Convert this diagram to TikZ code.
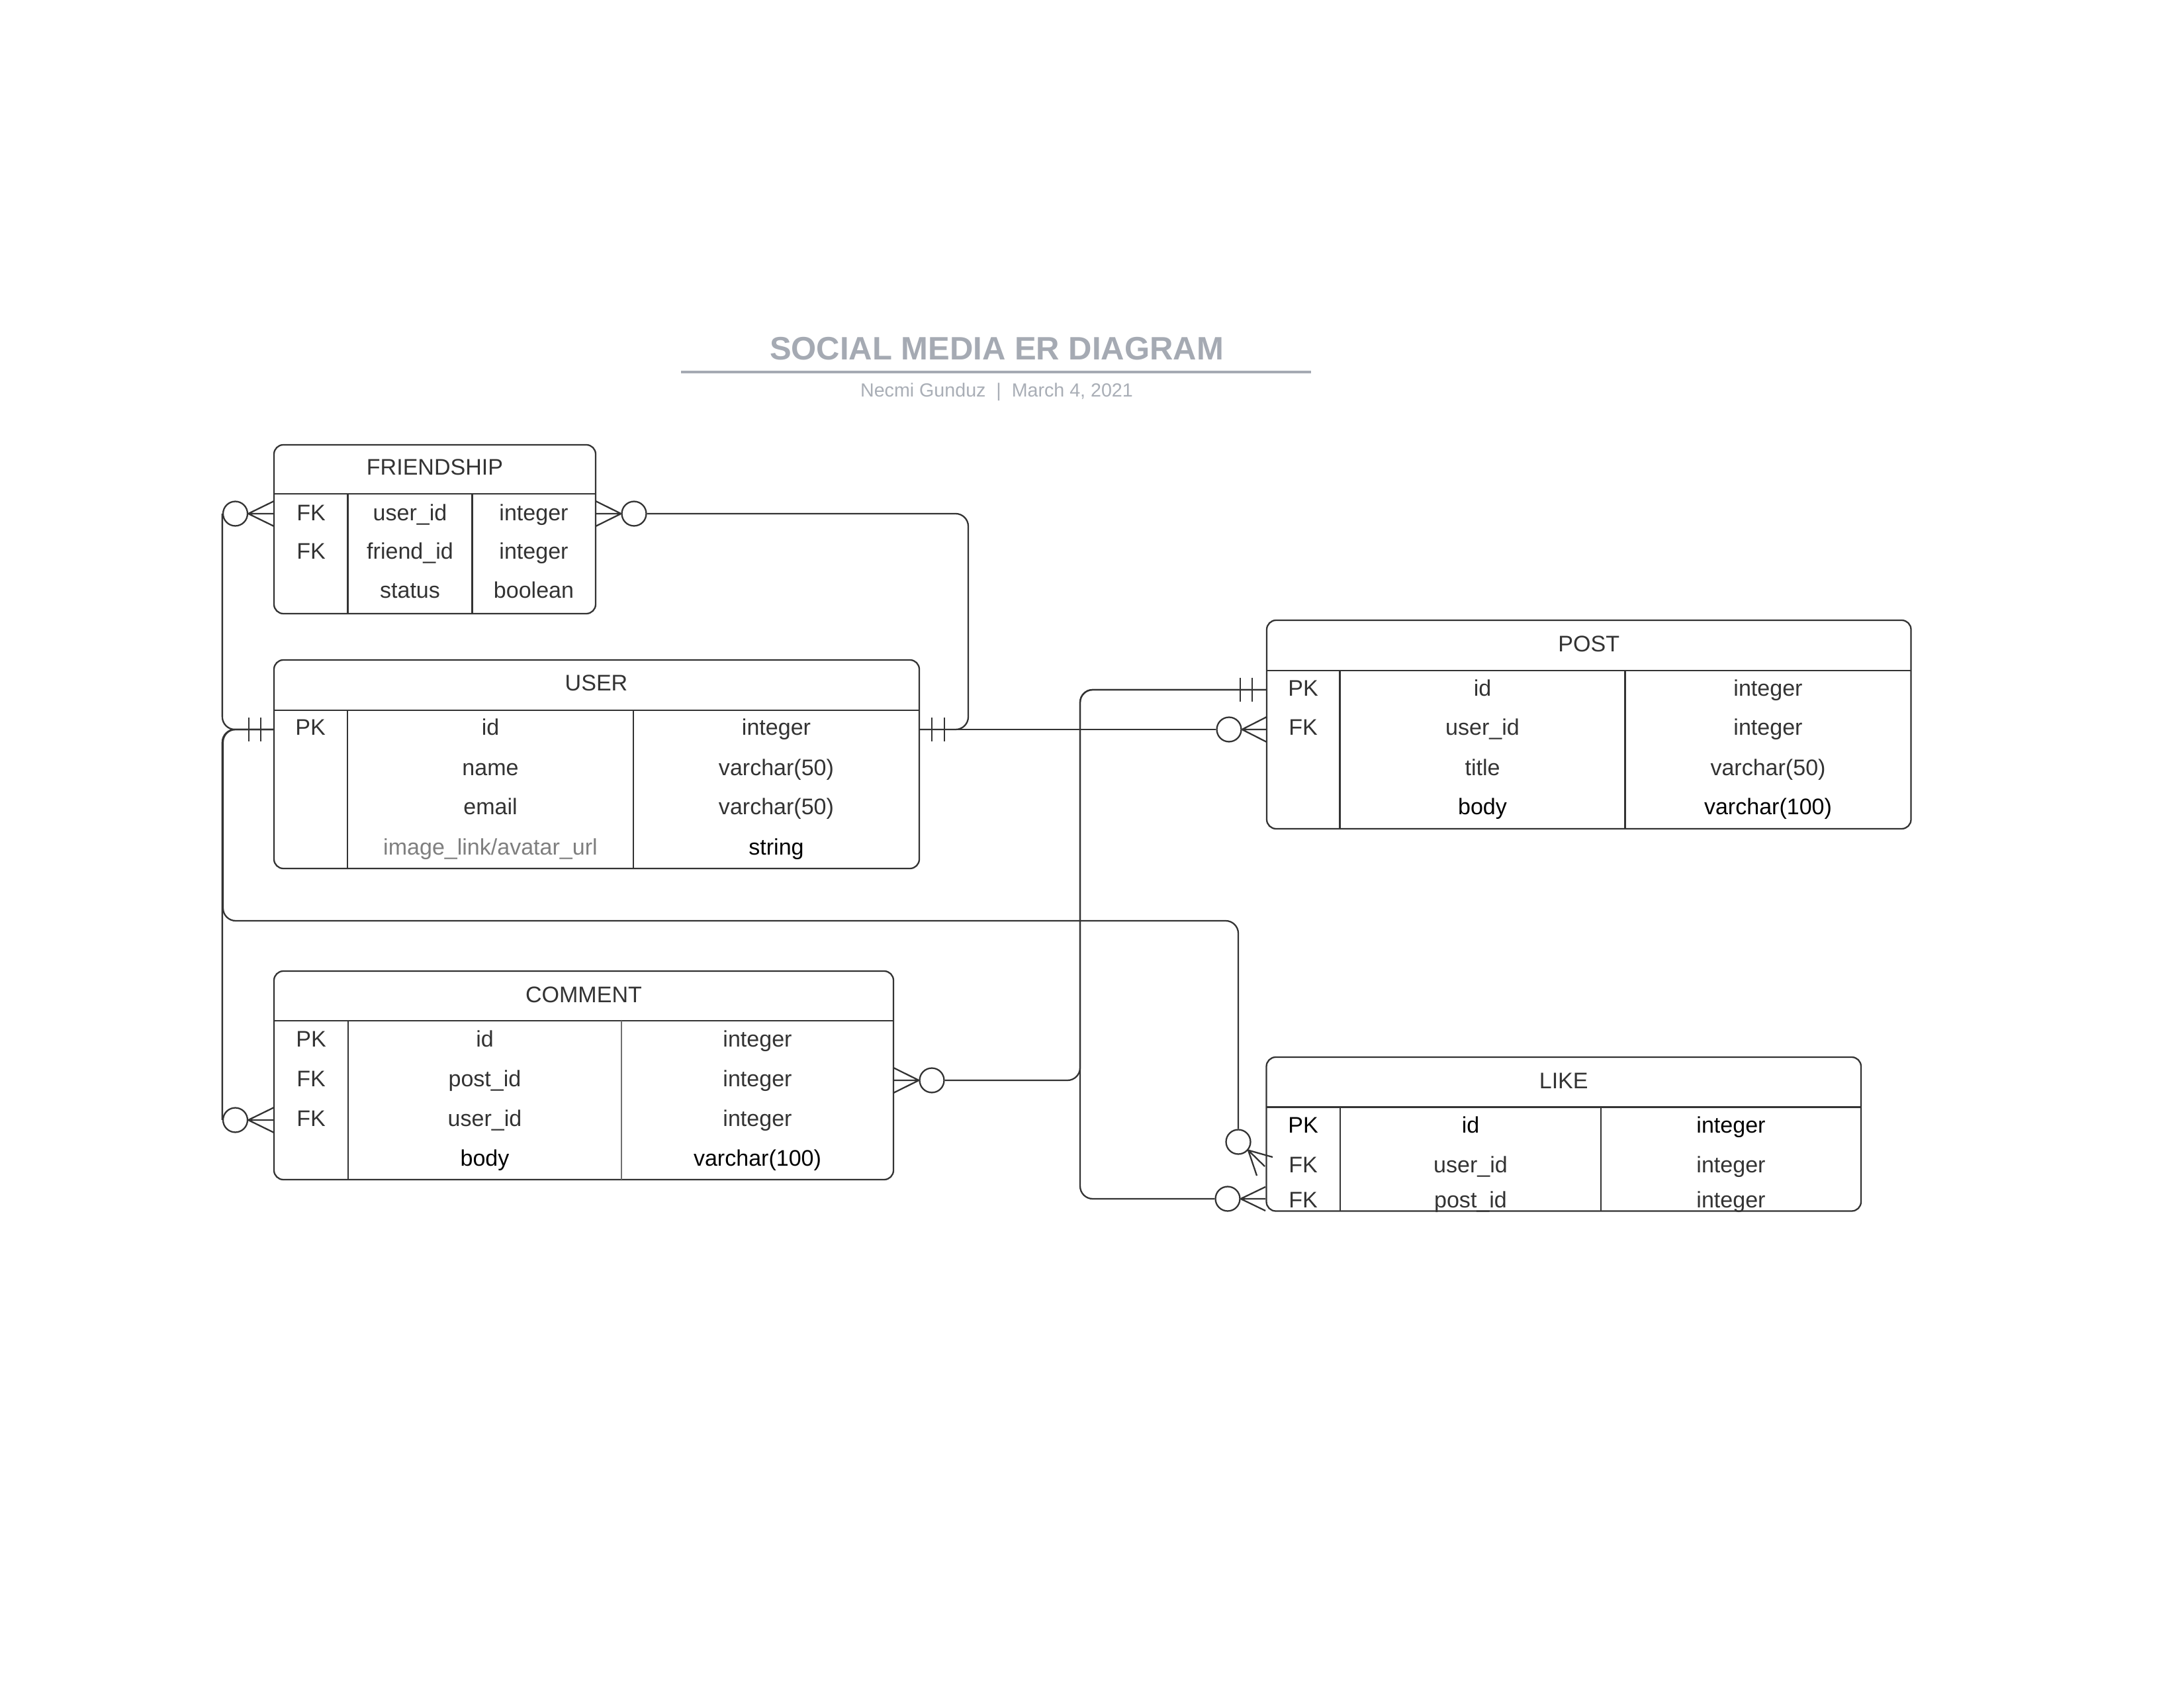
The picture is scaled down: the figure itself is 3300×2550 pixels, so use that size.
\documentclass[tikz,border=0pt]{standalone}
\usepackage{fontspec}
\setmainfont{Liberation Sans}
\usetikzlibrary{fit}

\definecolor{ink}{HTML}{333333}
\definecolor{titlegray}{HTML}{A5AAB3}
\definecolor{subgray}{HTML}{A9AEB6}
\definecolor{mutedtext}{HTML}{7F7F7F}

\newcommand\cellfont{\fontsize{8.2}{9.8}\selectfont}
\newcommand\headfont{\fontsize{11.8}{14}\selectfont\bfseries}
\newcommand\subfont{\fontsize{6.9}{8.5}\selectfont}

\begin{document}
\begin{tikzpicture}[x=0.2409pt, y=-0.2409pt,
  ink/.style={draw=ink, line width=0.55pt},
  tablebox/.style={ink, rounded corners=3.4pt, inner sep=0pt, outer sep=0pt},
  divider/.style={ink},
  thindivider/.style={draw=ink!70, line width=0.35pt},
  conn/.style={ink, rounded corners=4.6pt},
  zero/.style={ink, circle, inner sep=0pt, minimum size=8.9pt},
  cell/.style={anchor=base, inner sep=0pt, text=ink, font=\cellfont, yshift=-0.25pt},
  dark/.style={text=black},
  muted/.style={text=mutedtext},
]
% page
\fill[white] (0,0) rectangle (3300,2550);
\useasboundingbox (0,0) rectangle (3300,2550);

% ---------- heading ----------
\node[anchor=base, inner sep=0pt, text=titlegray, font=\headfont] (title) at (1506,544) {SOCIAL MEDIA ER DIAGRAM};
\draw[titlegray, line width=0.9pt] (1029,562) -- (1981,562);
\node[anchor=base, inner sep=0pt, text=subgray, font=\subfont] (subtitle) at (1506,600) {Necmi Gunduz\ \ |\ \ March 4, 2021};

% ---------- FRIENDSHIP ----------
\node[tablebox, fit={(414,672) (900,927)}] (friendship) {};
\draw[divider] (414,746) -- (900,746);
\draw[divider] (525.5,746) -- (525.5,927);
\draw[divider] (713.5,746) -- (713.5,927);
\node[cell] (fr-h) at (657,716) {FRIENDSHIP};
\node[cell] (fr-k1) at (470,785) {FK};
\node[cell] (fr-n1) at (619.5,785) {user\_id};
\node[cell] (fr-t1) at (806.5,785) {integer};
\node[cell] (fr-k2) at (470,843.5) {FK};
\node[cell] (fr-n2) at (619.5,843.5) {friend\_id};
\node[cell] (fr-t2) at (806.5,843.5) {integer};
\node[cell] (fr-n3) at (619.5,902) {status};
\node[cell] (fr-t3) at (806.5,902) {boolean};

% ---------- USER ----------
\node[tablebox, fit={(414,997) (1389,1312)}] (user) {};
\draw[divider] (414,1073) -- (1389,1073);
\draw[divider] (525,1073) -- (525,1312);
\draw[divider] (957,1073) -- (957,1312);
\node[cell] (us-h) at (901,1042) {USER};
\node[cell] (us-k1) at (469,1109.5) {PK};
\node[cell] (us-n1) at (741,1109.5) {id};
\node[cell] (us-t1) at (1173,1109.5) {integer};
\node[cell] (us-n2) at (741,1170) {name};
\node[cell] (us-t2) at (1173,1170) {varchar(50)};
\node[cell] (us-n3) at (741,1229.5) {email};
\node[cell] (us-t3) at (1173,1229.5) {varchar(50)};
\node[cell, muted] (us-n4) at (741,1290) {image\_link/avatar\_url};
\node[cell, dark] (us-t4) at (1173,1290) {string};

% ---------- POST ----------
\node[tablebox, fit={(1914,937) (2887.5,1252)}] (post) {};
\draw[divider] (1914,1013) -- (2887.5,1013);
\draw[divider] (2024.5,1013) -- (2024.5,1252);
\draw[divider] (2455.5,1013) -- (2455.5,1252);
\node[cell] (po-h) at (2400.7,983) {POST};
\node[cell] (po-k1) at (1969,1050) {PK};
\node[cell] (po-n1) at (2240,1050) {id};
\node[cell] (po-t1) at (2671.5,1050) {integer};
\node[cell] (po-k2) at (1969,1109) {FK};
\node[cell] (po-n2) at (2240,1109) {user\_id};
\node[cell] (po-t2) at (2671.5,1109) {integer};
\node[cell] (po-n3) at (2240,1170) {title};
\node[cell] (po-t3) at (2671.5,1170) {varchar(50)};
\node[cell, dark] (po-n4) at (2240,1229) {body};
\node[cell, dark] (po-t4) at (2671.5,1229) {varchar(100)};

% ---------- COMMENT ----------
\node[tablebox, fit={(414,1467) (1350,1782)}] (comment) {};
\draw[divider] (414,1542) -- (1350,1542);
\draw[divider] (526,1542) -- (526,1782);
\draw[thindivider] (939,1542) -- (939,1782);
\node[cell] (cm-h) at (882,1513) {COMMENT};
\node[cell] (cm-k1) at (470,1580) {PK};
\node[cell] (cm-n1) at (732.5,1580) {id};
\node[cell] (cm-t1) at (1144.5,1580) {integer};
\node[cell] (cm-k2) at (470,1640) {FK};
\node[cell] (cm-n2) at (732.5,1640) {post\_id};
\node[cell] (cm-t2) at (1144.5,1640) {integer};
\node[cell] (cm-k3) at (470,1700) {FK};
\node[cell] (cm-n3) at (732.5,1700) {user\_id};
\node[cell] (cm-t3) at (1144.5,1700) {integer};
\node[cell, dark] (cm-n4) at (732.5,1760) {body};
\node[cell, dark] (cm-t4) at (1144.5,1760) {varchar(100)};

% ---------- LIKE ----------
\node[tablebox, fit={(1913.5,1597) (2812,1829.5)}] (like) {};
\draw[divider] (1913.5,1672.5) -- (2812,1672.5);
\draw[divider] (2025,1672.5) -- (2025,1829.5);
\draw[divider] (2419,1672.5) -- (2419,1829.5);
\node[cell] (lk-h) at (2362.7,1643) {LIKE};
\node[cell, dark] (lk-k1) at (1969,1710) {PK};
\node[cell, dark] (lk-n1) at (2222,1710) {id};
\node[cell, dark] (lk-t1) at (2615.5,1710) {integer};
\node[cell] (lk-k2) at (1969,1770) {FK};
\node[cell] (lk-n2) at (2222,1770) {user\_id};
\node[cell] (lk-t2) at (2615.5,1770) {integer};
\node[cell] (lk-k3) at (1969,1823) {FK};
\node[cell] (lk-n3) at (2222,1823) {post\_id};
\node[cell] (lk-t3) at (2615.5,1823) {integer};

% ---------- attachment points on the tables ----------
\coordinate (userL) at (414,1102);
\coordinate (userR) at (1389,1102);
\coordinate (postL) at (1914,1042);

% ---------- optional-many ends (circle + crow's foot) ----------
\node[zero] (frc1) at (355.5,776) {};
\draw[ink] (frc1.east) -- (414,757) (frc1.east) -- (414,776) (frc1.east) -- (414,795);

\node[zero] (frc2) at (958,776) {};
\draw[ink] (frc2.west) -- (900,757) (frc2.west) -- (900,776) (frc2.west) -- (900,795);

\node[zero] (poc1) at (1857,1102) {};
\draw[ink] (poc1.east) -- (1914,1083) (poc1.east) -- (1914,1102) (poc1.east) -- (1914,1121);

\node[zero] (cmc2) at (355.5,1692) {};
\draw[ink] (cmc2.east) -- (414,1673) (cmc2.east) -- (414,1692) (cmc2.east) -- (414,1711);

\node[zero] (cmc1) at (1408,1632) {};
\draw[ink] (cmc1.west) -- (1350,1613) (cmc1.west) -- (1350,1632) (cmc1.west) -- (1350,1651);

\node[zero] (lkc2) at (1855,1811) {};
\draw[ink] (lkc2.east) -- (1912,1793) (lkc2.east) -- (1912,1811) (lkc2.east) -- (1912,1829);

\node[zero] (lkc1) at (1871,1725) {};
\draw[ink] (lkc1.-40) -- (1923,1748) (lkc1.-40) -- (1911,1762) (lkc1.-40) -- (1899,1776);

% ---------- exactly-one ends ----------
\draw[ink] (376,1084) -- (376,1120) (394,1084) -- (394,1120);
\draw[ink] (1408,1084) -- (1408,1120) (1427,1084) -- (1427,1120);
\draw[ink] (1874,1024) -- (1874,1060) (1892,1024) -- (1892,1060);

% ---------- relationships ----------
% USER -- FRIENDSHIP.user_id
\draw[conn] (frc1.west) |- (userL);
% USER -- FRIENDSHIP (right side)
\draw[conn] (frc2.east) -- (1463,776) -- (1463,1102) -- (userR);
% USER -- POST.user_id
\draw[conn] (userR) -- (poc1.west);
% USER -- COMMENT.user_id
\draw[conn] (userL) -| (cmc2.west);
% USER -- LIKE.user_id
\draw[conn] (userL) -- (337,1102) -- (337,1391) -- (1871,1391) -- (lkc1.north);
% POST -- COMMENT.post_id
\draw[conn] (cmc1.east) -- (1632,1632) -- (1632,1042) -- (postL);
% POST -- LIKE.post_id
\draw[conn] (lkc2.west) -- (1632,1811) -- (1632,1042) -- (postL);

\end{tikzpicture}
\end{document}
